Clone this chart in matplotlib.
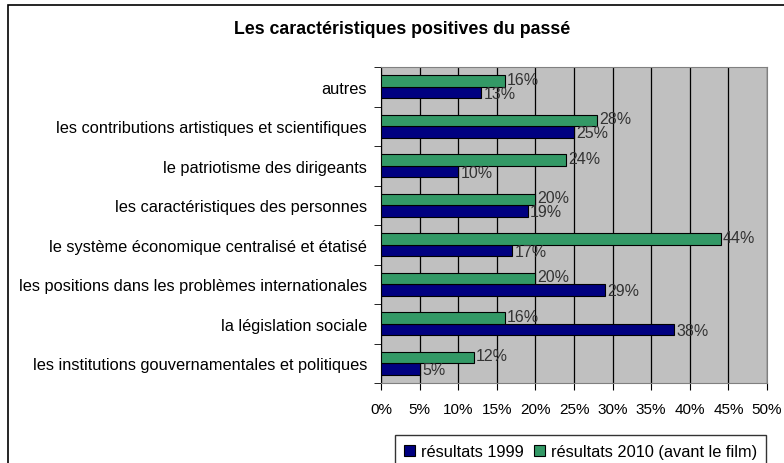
import matplotlib.pyplot as plt
import numpy as np
from matplotlib.patches import Rectangle

plt.rcParams['font.family'] = ['Liberation Sans', 'DejaVu Sans']

# categories from bottom to top
categories = [
    "les institutions gouvernamentales et politiques",
    "la législation sociale",
    "les positions dans les problèmes internationales",
    "le système économique centralisé et étatisé",
    "les caractéristiques des personnes",
    "le patriotisme des dirigeants",
    "les contributions artistiques et scientifiques",
    "autres",
]
res_1999 = [5, 38, 29, 17, 19, 10, 25, 13]
res_2010 = [12, 16, 20, 44, 20, 24, 28, 16]
xticks = list(range(0, 55, 5))

navy = "#000080"
green = "#339966"

fig = plt.figure(figsize=(7.84, 4.64), dpi=100)
ax = fig.add_axes([381 / 784, 1 - 384 / 464, 386 / 784, 316 / 464])

# figure border (right and bottom cut off like the original)
fig.patches.append(Rectangle((8 / 784, -0.1), 1.2, 1 - 6 / 464 + 0.1,
                             transform=fig.transFigure, fill=False,
                             edgecolor="black", linewidth=1.2))

y = np.arange(len(categories))
h = 0.29
ax.barh(y - h / 2, res_1999, height=h, color=navy, edgecolor="black",
        linewidth=0.8, label="résultats 1999", zorder=3)
ax.barh(y + h / 2, res_2010, height=h, color=green, edgecolor="black",
        linewidth=0.8, label="résultats 2010 (avant le film)", zorder=3)

for yi, v in zip(y, res_1999):
    ax.text(v + 0.3, yi - h / 2 - 0.02, f"{v}%", va="center", ha="left",
            fontsize=11.5, color="#333333", zorder=4)
for yi, v in zip(y, res_2010):
    ax.text(v + 0.3, yi + h / 2 + 0.04, f"{v}%", va="center", ha="left",
            fontsize=11.5, color="#333333", zorder=4)

ax.set_facecolor("#C0C0C0")
ax.set_xlim(0, 50)
ax.set_ylim(-0.5, len(categories) - 0.5)
ax.set_xticks(xticks)
ax.set_xticklabels([f"{t}%" for t in xticks], fontsize=11)
ax.set_yticks(y)
ax.set_yticklabels(categories, fontsize=11.8)
ax.set_yticks(np.arange(-0.5, len(categories), 1), minor=True)
ax.tick_params(axis="y", which="major", length=0, pad=10)
ax.tick_params(axis="y", which="minor", length=5, direction="out")
ax.tick_params(axis="x", length=5, direction="out", pad=9)
ax.grid(axis="x", color="black", linewidth=0.9, zorder=1)

for side in ["top", "right"]:
    ax.spines[side].set_color("#808080")
ax.spines["left"].set_color("black")
ax.spines["bottom"].set_color("#808080")

fig.text(402 / 784, 1 - 30 / 464, "Les caractéristiques positives du passé",
         ha="center", va="center", fontsize=12.8, fontweight="bold")

leg = fig.legend(loc="upper left", bbox_to_anchor=(395 / 784, 1 - 436 / 464),
                 ncol=2, fontsize=11.8, frameon=True, fancybox=False,
                 edgecolor="black", handlelength=0.7, handleheight=0.7,
                 handletextpad=0.35, columnspacing=0.6, borderpad=0.55,
                 borderaxespad=0)
leg.get_frame().set_linewidth(1.0)

fig.savefig("out.png", dpi=100)
